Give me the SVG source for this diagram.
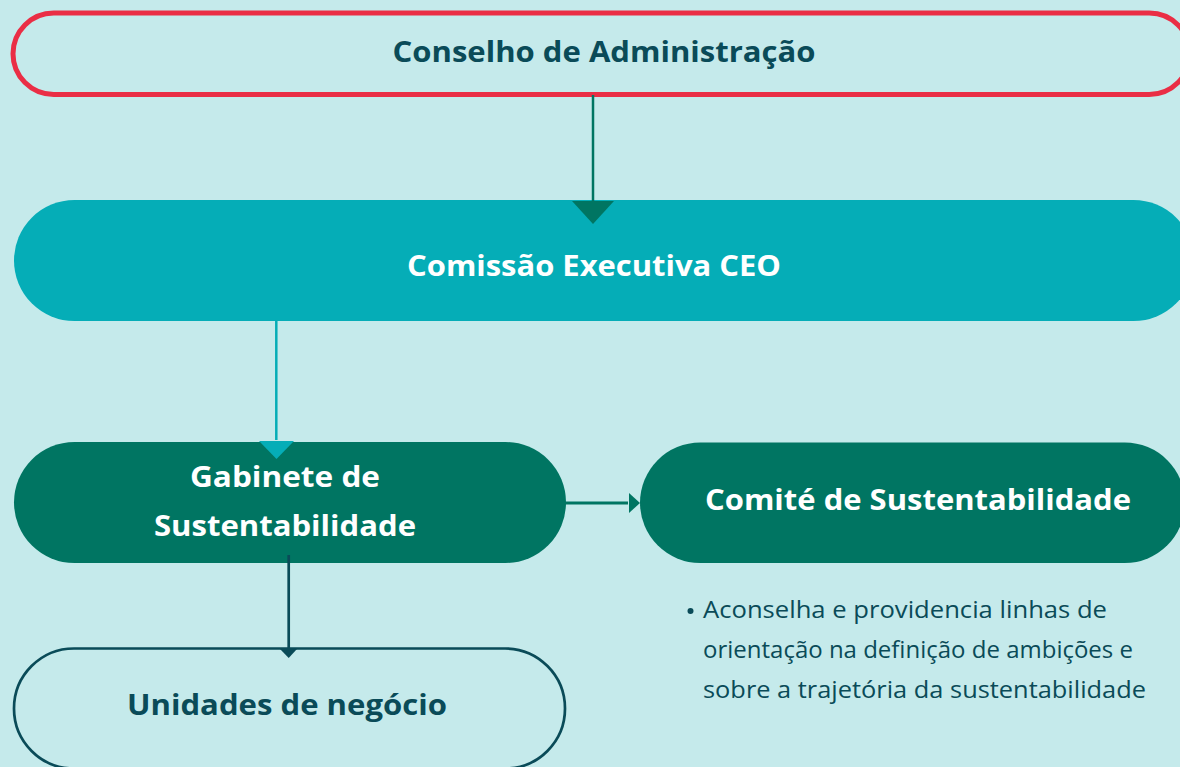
<svg xmlns="http://www.w3.org/2000/svg" width="1180" height="767" viewBox="0 0 1180 767">
<style>
.t{font-family:"Open Sans","Liberation Sans",sans-serif;font-weight:700;text-anchor:middle}
.w{fill:#ffffff}
.d{fill:#0a4b58}
.b{font-family:"Open Sans","Liberation Sans",sans-serif;font-size:23px;fill:#0a4b58}
</style>
<rect width="1180" height="767" fill="#c5eaeb"/>
<g id="n1">
<rect x="13" y="13" width="1177" height="81.5" rx="40.75" fill="none" stroke="#ea2e45" stroke-width="5"/>
<text class="t d" x="604" y="62" font-size="29" textLength="423" lengthAdjust="spacingAndGlyphs">Conselho de Administração</text>
</g>
<g id="n2">
<rect x="14" y="200" width="1180" height="121" rx="60.5" fill="#05adb7"/>
<text class="t w" x="594" y="276" font-size="29" textLength="374" lengthAdjust="spacingAndGlyphs">Comissão Executiva CEO</text>
</g>
<g id="n3">
<rect x="14" y="442" width="552" height="121" rx="60.5" fill="#007562"/>
<text class="t w" x="285" y="487" font-size="29" textLength="190" lengthAdjust="spacingAndGlyphs">Gabinete de</text>
<text class="t w" x="285" y="536" font-size="29" textLength="262" lengthAdjust="spacingAndGlyphs">Sustentabilidade</text>
</g>
<g id="n4">
<rect x="640" y="442.5" width="545" height="120.5" rx="60.25" fill="#007562"/>
<text class="t w" x="918" y="510" font-size="29" textLength="426" lengthAdjust="spacingAndGlyphs">Comité de Sustentabilidade</text>
</g>
<g id="n5">
<rect x="14" y="648.5" width="551" height="120" rx="60" fill="none" stroke="#0a4b58" stroke-width="2.7"/>
<text class="t d" x="287" y="715" font-size="29" textLength="320" lengthAdjust="spacingAndGlyphs">Unidades de negócio</text>
</g>
<g id="bullets">
<circle cx="690.5" cy="611" r="3" fill="#0a4b58"/>
<text class="b" x="703" y="618" textLength="404" lengthAdjust="spacingAndGlyphs">Aconselha e providencia linhas de</text>
<text class="b" x="703" y="658" textLength="430" lengthAdjust="spacingAndGlyphs">orientação na definição de ambições e</text>
<text class="b" x="703" y="698" textLength="443" lengthAdjust="spacingAndGlyphs">sobre a trajetória da sustentabilidade</text>
</g>
<g id="connectors">
<line x1="593" y1="95" x2="593" y2="202" stroke="#007562" stroke-width="2.5"/>
<polygon points="572,201 614,201 593,224" fill="#007562"/>
<line x1="276.3" y1="321" x2="276.3" y2="440" stroke="#05adb7" stroke-width="2.5"/>
<polygon points="259,441 294,441 276.5,459" fill="#05adb7"/>
<line x1="564" y1="503" x2="628" y2="503" stroke="#007562" stroke-width="3"/>
<polygon points="629,493 640,503 629,513" fill="#007562"/>
<line x1="288.7" y1="555" x2="288.7" y2="650" stroke="#0a4b58" stroke-width="2.7"/>
<polygon points="280,649 297,649 288.7,658" fill="#0a4b58"/>
</g>
</svg>
